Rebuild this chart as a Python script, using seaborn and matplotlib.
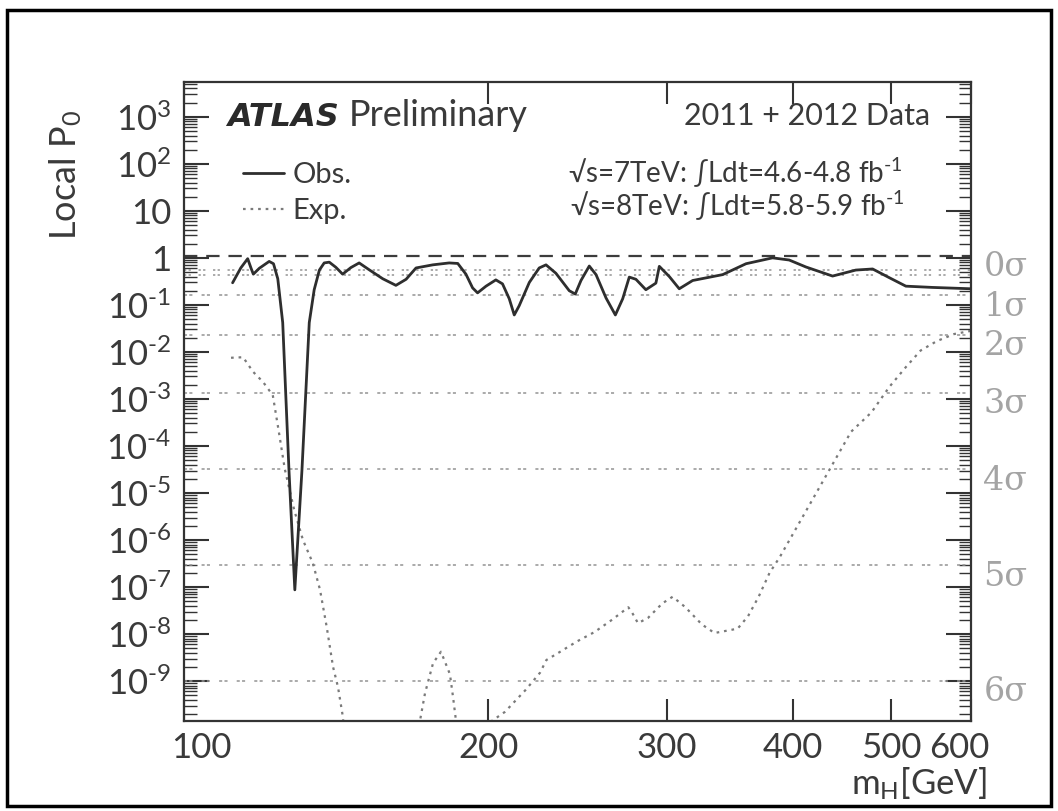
import numpy as np
import pandas as pd
import matplotlib
matplotlib.use('Agg')
import matplotlib.pyplot as plt
import matplotlib.ticker as mticker
from matplotlib.lines import Line2D
from matplotlib.patches import Rectangle
from matplotlib.transforms import ScaledTranslation
import seaborn as sns

# observed local p0 vs m_H [GeV]
obs_mass = [111.7, 113.8, 115.6, 116.5, 117.1, 118.7, 121.4, 122.6, 123.8, 125.2,
            127.0, 128.7, 130.8, 133.0, 134.5, 136.1, 137.6, 139.2, 141.3, 143.5,
            146.2, 149.0, 152.4, 157.2, 162.0, 165.8, 169.6, 176.2, 182.9, 186.5,
            190.0, 192.9, 195.1, 198.9, 203.4, 206.5, 209.7, 212.1, 214.5, 219.5,
            224.5, 228.0, 233.2, 240.4, 243.7, 246.9, 251.6, 255.5, 261.4, 267.0,
            271.5, 275.6, 279.8, 286.2, 292.8, 295.1, 301.9, 308.8, 318.4, 340.9,
            359.5, 381.9, 396.6, 412.0, 437.8, 461.6, 479.6, 498.0, 517.3, 549.7,
            600.0]
obs_p = [0.295, 0.61, 0.96, 0.60, 0.45, 0.60, 0.84, 0.75, 0.36, 0.042,
         3e-5, 8.7e-8, 3e-5, 0.042, 0.21, 0.55, 0.78, 0.81, 0.63, 0.45,
         0.62, 0.78, 0.56, 0.36, 0.26, 0.35, 0.61, 0.71, 0.78, 0.76,
         0.45, 0.23, 0.18, 0.25, 0.34, 0.28, 0.135, 0.061, 0.096, 0.30,
         0.61, 0.71, 0.47, 0.20, 0.17, 0.33, 0.67, 0.44, 0.14, 0.061,
         0.135, 0.39, 0.35, 0.21, 0.29, 0.66, 0.40, 0.22, 0.33, 0.44,
         0.75, 1.0, 0.90, 0.64, 0.41, 0.55, 0.58, 0.38, 0.25, 0.235,
         0.22]

# expected local p0 (values below the frame are cut by the axis)
exp_mass = [111.3, 114.4, 117.0, 119.7, 122.4, 124.1, 125.8, 128.5, 131.1, 134.1,
            136.3, 138.4, 140.4, 142.0, 143.6, 145.0, 169.5, 171.2, 173.1, 176.3,
            179.5, 183.2, 184.5, 185.7, 187.0, 200.5, 201.4, 207.6, 217.7, 224.9,
            228.2, 233.7, 244.8, 254.6, 264.9, 275.0, 277.5, 281.1, 287.6, 297.2,
            304.2, 313.2, 325.1, 334.6, 352.7, 361.2, 370.1, 379.3, 388.4, 456.6,
            478.4, 498.2, 517.5, 535.0, 555.2, 577.5, 600.0]
exp_p = [7.5e-3, 7.7e-3, 3.8e-3, 2.3e-3, 1.2e-3, 2e-4, 3.2e-5, 4.4e-6, 1e-6, 3.2e-7,
         8.7e-8, 1.4e-8, 2e-9, 7.4e-10, 1.7e-10, 1e-11, 1e-11, 1.5e-10, 5.5e-10, 2.4e-9,
         4.2e-9, 1.4e-9, 4.6e-10, 1.5e-10, 1e-11, 1e-11, 1.4e-10, 2.2e-10, 6.5e-10, 1.5e-9,
         2.8e-9, 3.8e-9, 7e-9, 1.1e-8, 2e-8, 3.7e-8, 2.8e-8, 1.7e-8, 2.2e-8, 4.5e-8,
         6.2e-8, 3.7e-8, 1.6e-8, 1.05e-8, 1.3e-8, 2.4e-8, 6.3e-8, 2e-7, 4.4e-7, 2e-4,
         5.2e-4, 1.8e-3, 4.8e-3, 0.0107, 0.017, 0.024, 0.028]

# significance reference lines
sigma_labels = ['0σ', '1σ', '2σ', '3σ', '4σ', '5σ', '6σ']
sigma_p = [1.1, 0.159, 0.0228, 1.35e-3, 3.17e-5, 2.87e-7, 9.87e-10]
median_dots_p = [0.55, 0.44]

xtick_vals = [100, 200, 300, 400, 500, 600]
xtick_labels = ['100', '200', '300', '400', '500', '600']
ytick_vals = [1e-9, 1e-8, 1e-7, 1e-6, 1e-5, 1e-4, 1e-3, 1e-2, 1e-1, 1, 10, 1e2, 1e3]
ytick_labels = ['10$^{\\text{-}9}$', '10$^{\\text{-}8}$', '10$^{\\text{-}7}$',
                '10$^{\\text{-}6}$', '10$^{\\text{-}5}$', '10$^{\\text{-}4}$',
                '10$^{\\text{-}3}$', '10$^{\\text{-}2}$', '10$^{\\text{-}1}$',
                '1', '10', '10$^{2}$', '10$^{3}$']

sns.set_style('ticks')
plt.rcParams['font.family'] = ['Lato', 'DejaVu Sans']
plt.rcParams['mathtext.fontset'] = 'custom'
plt.rcParams['mathtext.rm'] = 'Lato'
plt.rcParams['mathtext.it'] = 'Lato:italic'
plt.rcParams['mathtext.bf'] = 'Lato:bold'

TXT = '#3a3a3a'
W, H = 1058, 811

fig = plt.figure(figsize=(W / 100, H / 100), dpi=100)
ax = fig.add_axes([184 / W, 1 - 721 / H, (971 - 184) / W, (721 - 82) / H])

obs = pd.DataFrame({'mass': obs_mass, 'p0': obs_p})
exp = pd.DataFrame({'mass': exp_mass, 'p0': exp_p})

# reference lines
for i, p in enumerate(sigma_p):
    if i == 0:
        ax.axhline(p, color='#3c3c3c', lw=1.6, dashes=(6, 4), zorder=1)
    else:
        ax.axhline(p, color='#939393', lw=1.1, dashes=(2, 1.5, 2, 6), zorder=1)
    ax.annotate(sigma_labels[i], xy=(1.0, p), xycoords=('axes fraction', 'data'),
                xytext=(9, -8), textcoords='offset points', va='center', ha='left',
                fontsize=24, color='#a4a4a4', family='DejaVu Serif',
                annotation_clip=False)
for p in median_dots_p:
    ax.axhline(p, color='#939393', lw=1.1, dashes=(1.5, 1.5, 1.5, 5), zorder=1)

sns.lineplot(data=exp, x='mass', y='p0', ax=ax, color='#7a7a7a', lw=1.6,
             sort=False, estimator=None, zorder=2)
ax.lines[-1].set_linestyle((0, (1.2, 2.2)))
sns.lineplot(data=obs, x='mass', y='p0', ax=ax, color='#2e2e2e', lw=2.0,
             sort=False, estimator=None, zorder=3)

ax.set_xscale('log')
ax.set_yscale('log')
ax.set_xlim(100, 600)
ax.set_ylim(10 ** -9.85, 10 ** 3.74)

ax.xaxis.set_major_locator(mticker.FixedLocator(xtick_vals))
ax.xaxis.set_major_formatter(mticker.FixedFormatter(xtick_labels))
ax.xaxis.set_minor_locator(mticker.NullLocator())
ax.yaxis.set_major_locator(mticker.FixedLocator(ytick_vals))
ax.yaxis.set_major_formatter(mticker.FixedFormatter(ytick_labels))
ax.yaxis.set_minor_locator(mticker.LogLocator(base=10, subs=np.arange(2, 10), numticks=100))
ax.yaxis.set_minor_formatter(mticker.NullFormatter())

ax.tick_params(axis='both', which='major', direction='in', length=18, width=1.5,
               color='#333333', labelsize=25, labelcolor=TXT, top=True, right=True)
ax.tick_params(axis='x', which='major', length=16, pad=8)
ax.tick_params(axis='y', which='major', pad=9)
ax.tick_params(axis='y', which='minor', direction='in', length=9, width=1.0,
               color='#333333', left=True, right=True)
for s in ax.spines.values():
    s.set_color('#333333')
    s.set_linewidth(1.6)

# keep the edge labels inside the frame, as in the original
xl = ax.get_xticklabels()
xl[0].set_transform(xl[0].get_transform() + ScaledTranslation(0.17, 0, fig.dpi_scale_trans))
xl[-1].set_transform(xl[-1].get_transform() + ScaledTranslation(-0.12, 0, fig.dpi_scale_trans))

ax.set_xlabel('m$_{\\mathrm{H}}$[GeV]', fontsize=25, color=TXT, ha='right')
ax.xaxis.set_label_coords(1.02, -0.07)
ax.set_ylabel('Local P$_{0}$', fontsize=26, color=TXT)
ax.yaxis.set_label_coords(-0.127, 0.855)

handles = [Line2D([], [], color='#2e2e2e', lw=2.0),
           Line2D([], [], color='#7a7a7a', lw=1.6, ls=(0, (1.2, 2.2)))]
ax.legend(handles, ['Obs.', 'Exp.'], loc='upper left',
          bbox_to_anchor=(243 / W, 1 - 162 / H), bbox_transform=fig.transFigure,
          frameon=False, fontsize=21, handlelength=1.4, handletextpad=0.3,
          labelspacing=0.35, borderpad=0, borderaxespad=0, labelcolor=TXT)

fig.text(227 / W, 1 - 126 / H, 'ATLAS', fontsize=23, fontweight='bold',
         style='italic', family='DejaVu Sans', color='#2a2a2a', va='baseline')
fig.text(349 / W, 1 - 126 / H, 'Preliminary', fontsize=26, color=TXT, va='baseline')
fig.text(930 / W, 1 - 116 / H, '2011 + 2012 Data', fontsize=22, color=TXT,
         ha='right', va='center')
fig.text(903 / W, 1 - 173 / H, '√s=7TeV: ∫Ldt=4.6-4.8 fb$^{\\text{-}1}$', fontsize=20,
         color=TXT, ha='right', va='center')
fig.text(905 / W, 1 - 206 / H, '√s=8TeV: ∫Ldt=5.8-5.9 fb$^{\\text{-}1}$', fontsize=20,
         color=TXT, ha='right', va='center')

# scan border
fig.add_artist(Rectangle((7 / W, 1 - 806 / H), (1051 - 7) / W, (806 - 10) / H,
                         transform=fig.transFigure, fill=False, lw=2.5,
                         ec='black'))

fig.savefig('out.png', dpi=100)
